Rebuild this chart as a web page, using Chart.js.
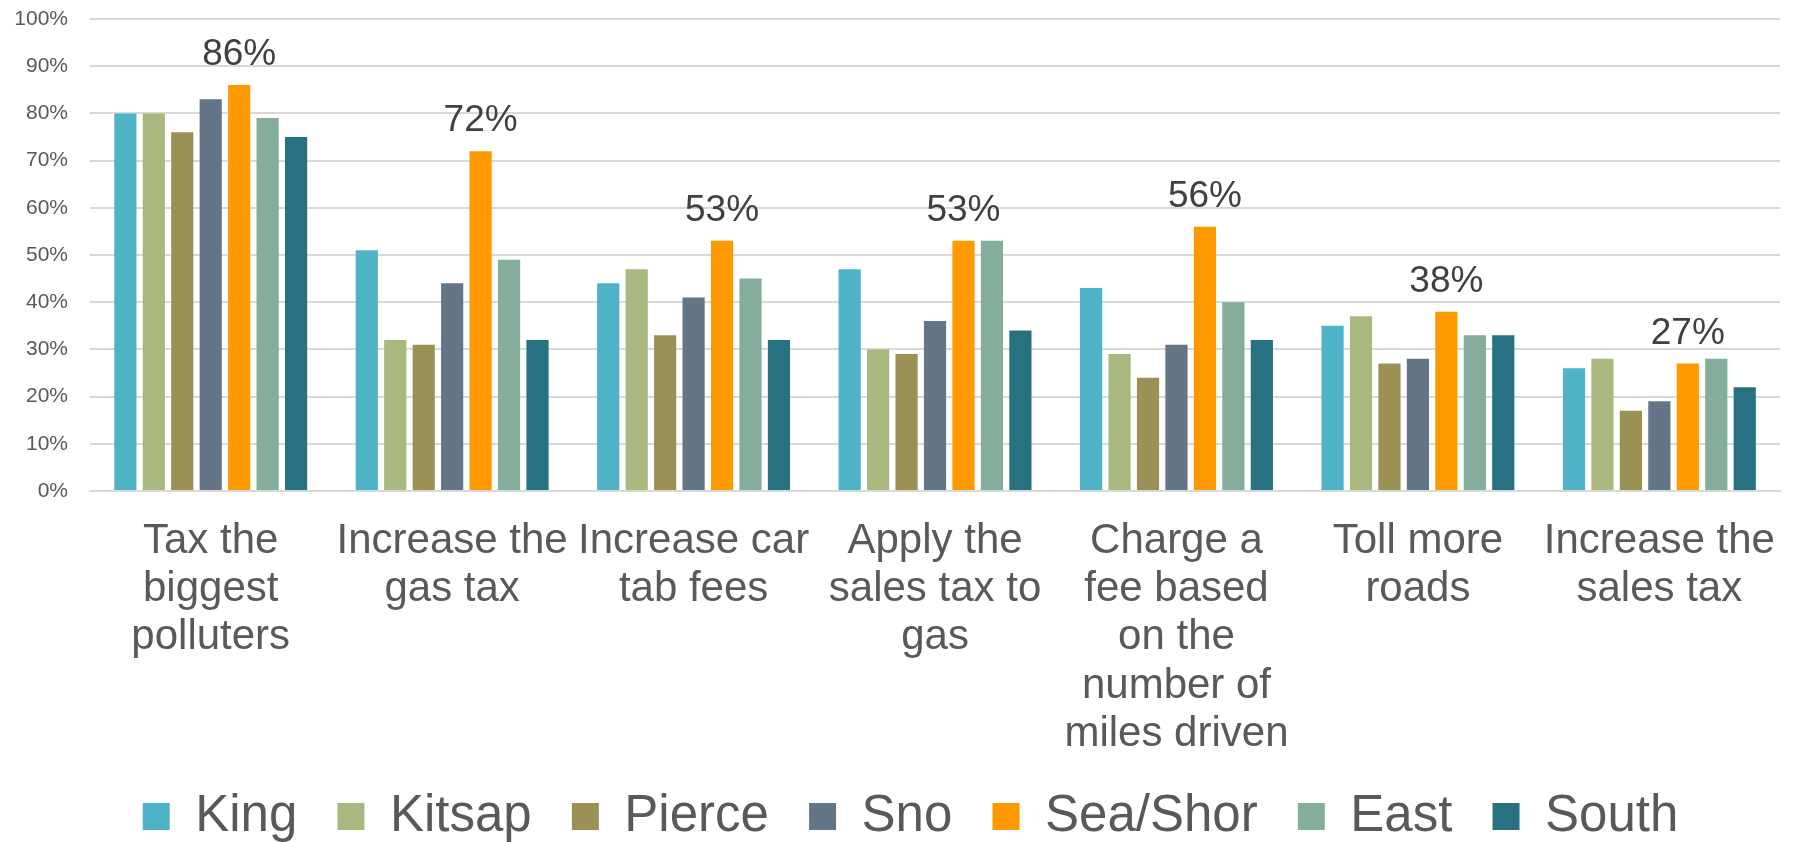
<!DOCTYPE html>
<html>
<head>
<meta charset="utf-8">
<script src="https://cdn.jsdelivr.net/npm/chart.js@4.4.1/dist/chart.umd.min.js"></script>
<style>
  html, body { margin: 0; padding: 0; background: #fff; }
  #wrap { width: 1802px; height: 842px; position: relative; }
</style>
</head>
<body>
<div id="wrap"><canvas id="chart_main"></canvas></div>
<script>
// categories (multi-line labels as shown under the bars)
const categories = [
  ['Tax the', 'biggest', 'polluters'],
  ['Increase the', 'gas tax'],
  ['Increase car', 'tab fees'],
  ['Apply the', 'sales tax to', 'gas'],
  ['Charge a', 'fee based', 'on the', 'number of', 'miles driven'],
  ['Toll more', 'roads'],
  ['Increase the', 'sales tax']
];

const regions = ['King', 'Kitsap', 'Pierce', 'Sno', 'Sea/Shor', 'East', 'South'];

// percentages per region
const king    = [80, 51, 44, 47, 43, 35, 26];
const kitsap  = [80, 32, 47, 30, 29, 37, 28];
const pierce  = [76, 31, 33, 29, 24, 27, 17];
const sno     = [83, 44, 41, 36, 31, 28, 19];
const seaShor = [86, 72, 53, 53, 56, 38, 27];
const east    = [79, 49, 45, 53, 40, 33, 28];
const south   = [75, 32, 32, 34, 32, 33, 22];

const yTicks = [0, 10, 20, 30, 40, 50, 60, 70, 80, 90, 100];

const series = [king, kitsap, pierce, sno, seaShor, east, south];
const colors = ['#4FB3C8', '#A8B87E', '#9C9155', '#657588', '#FF9900', '#85AD9C', '#277180'];

const FONT = '"Liberation Sans", Arial, Helvetica, sans-serif';
const TEXT = '#595959';

/**
 * Draws the value above each Sea/Shor bar
 */
const seaLabels = {
  id: 'seaLabels',
  afterDatasetsDraw(chart) {
    const ctx = chart.ctx;
    const meta = chart.getDatasetMeta(4);
    ctx.save();
    ctx.font = '37px ' + FONT;
    ctx.fillStyle = '#404040';
    ctx.textAlign = 'center';
    ctx.textBaseline = 'alphabetic';
    meta.data.forEach((bar, i) => {
      ctx.fillText(seaShor[i] + '%', bar.x, bar.y - 20);
    });
    ctx.restore();
  }
};

/**
 * Nudges the legend a bit to the right, like the original
 */
const legendShift = {
  id: 'legendShift',
  afterLayout(chart) {
    chart.legend.left += 17;
    chart.legend.right += 17;
  }
};

const datasets = regions.map((name, i) => ({
  label: name,
  data: series[i],
  backgroundColor: colors[i],
  borderWidth: 0,
  categoryPercentage: 0.825,
  barPercentage: 0.78
}));

let elem = document.getElementById('chart_main');
let chart = new Chart(elem.getContext('2d'), {
  type: 'bar',
  data: { labels: categories, datasets: datasets },
  plugins: [seaLabels, legendShift],
  options: {
    responsive: true,
    maintainAspectRatio: false,
    animation: false,
    layout: { padding: { top: 19, right: 15, left: 0, bottom: 0 } },
    plugins: {
      tooltip: { enabled: false },
      legend: {
        position: 'bottom',
        maxHeight: 77,
        labels: {
          font: { family: FONT, size: 51 },
          color: TEXT,
          boxWidth: 27,
          boxHeight: 27,
          padding: 26,
          // a trailing space widens the gap between items
          generateLabels(ch) {
            const items = Chart.defaults.plugins.legend.labels.generateLabels(ch);
            items.forEach((it, i) => {
              it.lineWidth = 0;
              if (i < items.length - 1) it.text = it.text + ' ';
            });
            return items;
          }
        }
      }
    },
    scales: {
      x: {
        grid: { display: false, drawTicks: false },
        border: { color: '#D9D9D9', width: 2 },
        ticks: {
          font: { family: FONT, size: 42, lineHeight: 1.15 },
          color: TEXT,
          padding: 26,
          maxRotation: 0,
          autoSkip: false
        },
        afterFit(scale) { scale.height = 274; }
      },
      y: {
        min: 0,
        max: 100,
        afterBuildTicks(scale) { scale.ticks = yTicks.map(v => ({ value: v })); },
        grid: { color: '#D9D9D9', lineWidth: 2, drawTicks: false },
        border: { display: false },
        ticks: {
          font: { family: FONT, size: 21 },
          color: TEXT,
          padding: 22,
          callback: v => v + '%'
        },
        afterFit(scale) {
          scale.width = 90;
          // tick padding should not push the plot area down
          scale.paddingTop = 12;
          scale.paddingBottom = 12;
        }
      }
    }
  }
});
</script>
</body>
</html>
